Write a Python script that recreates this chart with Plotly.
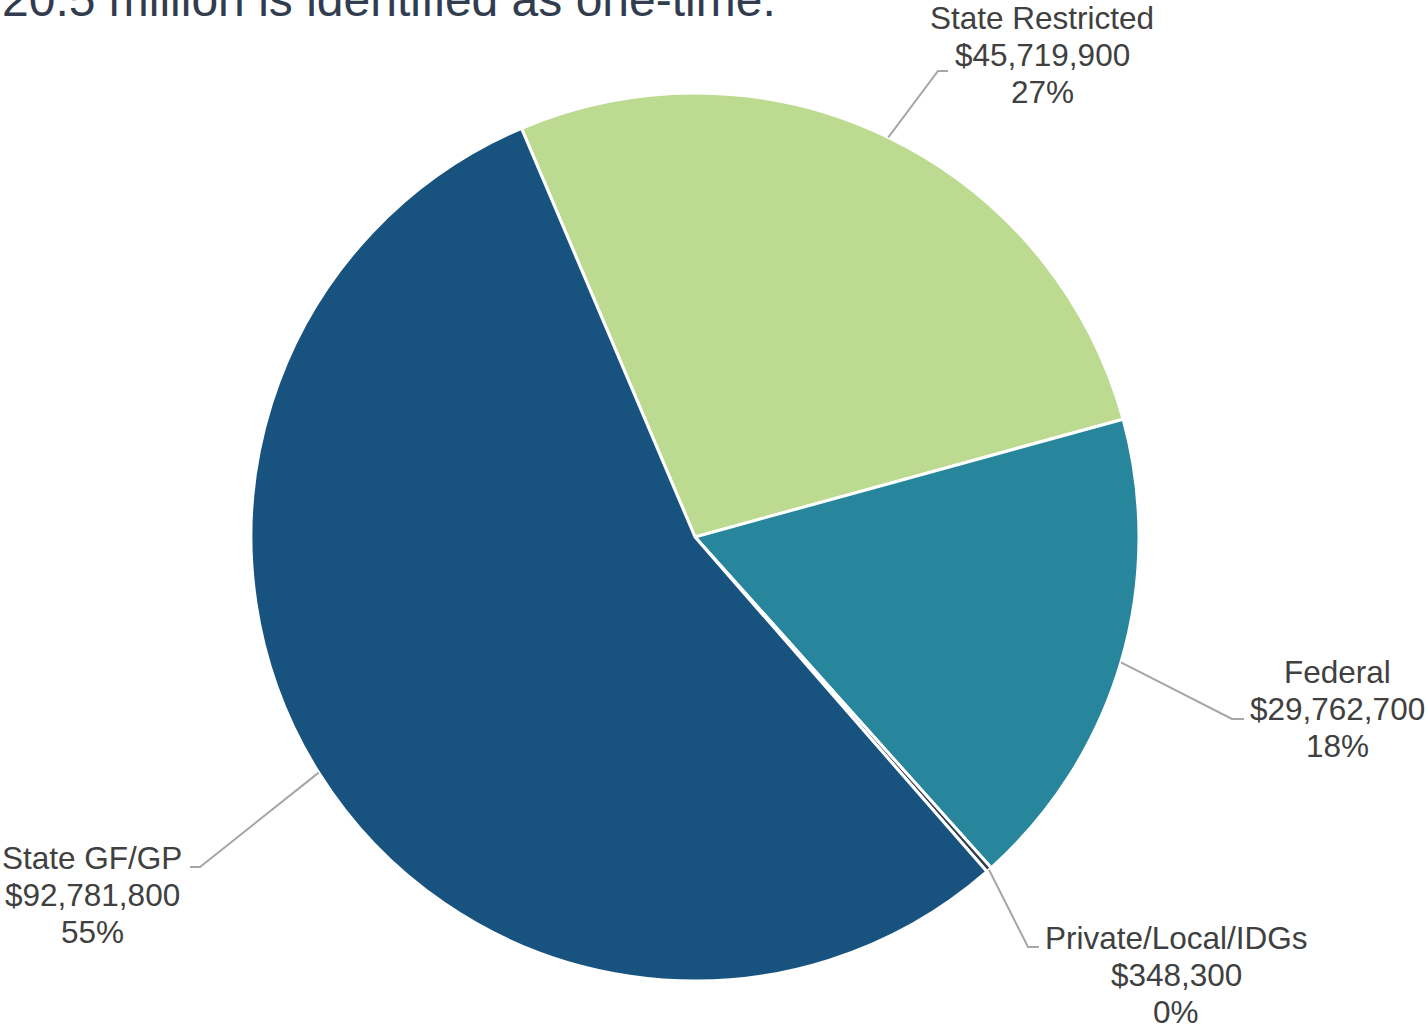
import math
import plotly.graph_objects as go

# Funding sources (clockwise from the top-left boundary)
categories = ["State Restricted", "Federal", "Private/Local/IDGs", "State GF/GP"]
amounts = [45719900, 29762700, 348300, 92781800]
slice_colors = ["#BCDB91", "#27869B", "#2E3D50", "#17537E"]

W, H = 1426, 1024
CX, CY, R = 695.0, 537.0, 444.0     # pie centre / radius in page pixels
ROTATION = -23.0                     # start angle of first slice (deg, clockwise from 12 o'clock)

FONT = "Liberation Sans, Arial, sans-serif"
LABEL_SIZE = 31.5
LINE_PITCH = 37

# label placement: elbow of leader line, end of its short horizontal run,
# text centre x and centre y of first text line (page pixels)
label_layout = {
    "State Restricted":   dict(elbow=(938, 71), end_x=948, tx=1042, ty=18),
    "Federal":            dict(elbow=(1232, 719), end_x=1244, tx=1337, ty=672),
    "Private/Local/IDGs": dict(elbow=(1028, 947), end_x=1039, tx=1176, ty=938),
    "State GF/GP":        dict(elbow=(200, 867), end_x=190, tx=92, ty=858),
}


def px_x(x):
    return x / W


def px_y(y):
    return 1 - y / H


total = sum(amounts)

fig = go.Figure(
    go.Pie(
        labels=categories,
        values=amounts,
        sort=False,
        direction="clockwise",
        rotation=ROTATION,
        marker=dict(colors=slice_colors, line=dict(color="white", width=3)),
        textinfo="none",
        hoverinfo="label+value+percent",
        domain=dict(x=[px_x(CX - R), px_x(CX + R)], y=[px_y(CY + R), px_y(CY - R)]),
        showlegend=False,
    )
)

shapes = []
annotations = []
cum = 0.0
for name, val in zip(categories, amounts):
    mid = math.radians(ROTATION + 360.0 * (cum + val / 2.0) / total)
    cum += val
    ex, ey = CX + R * math.sin(mid), CY - R * math.cos(mid)
    lay = label_layout[name]
    bx, by = lay["elbow"]
    path = "M {:.5f} {:.5f} L {:.5f} {:.5f} L {:.5f} {:.5f}".format(
        px_x(ex), px_y(ey), px_x(bx), px_y(by), px_x(lay["end_x"]), px_y(by)
    )
    shapes.append(dict(type="path", path=path, xref="paper", yref="paper",
                       line=dict(color="#A6A6A6", width=2)))
    pct = round(100.0 * val / total)
    lines = [name, "${:,}".format(val), "{}%".format(pct)]
    for i, t in enumerate(lines):
        annotations.append(dict(
            text=t, x=px_x(lay["tx"]), y=px_y(lay["ty"] + i * LINE_PITCH),
            xref="paper", yref="paper", xanchor="center", yanchor="middle",
            showarrow=False, font=dict(family=FONT, size=LABEL_SIZE, color="#404040"),
        ))

# heading text running off the top of the page
annotations.append(dict(
    text="20.5 million is identified as one-time.",
    x=0, y=px_y(-1), xref="paper", yref="paper", xanchor="left", yanchor="middle",
    showarrow=False, font=dict(family=FONT, size=48, color="#313D4F"),
))

fig.update_layout(
    width=W, height=H,
    margin=dict(l=0, r=0, t=0, b=0),
    paper_bgcolor="white", plot_bgcolor="white",
    shapes=shapes, annotations=annotations,
)

fig.write_html("out.html")
